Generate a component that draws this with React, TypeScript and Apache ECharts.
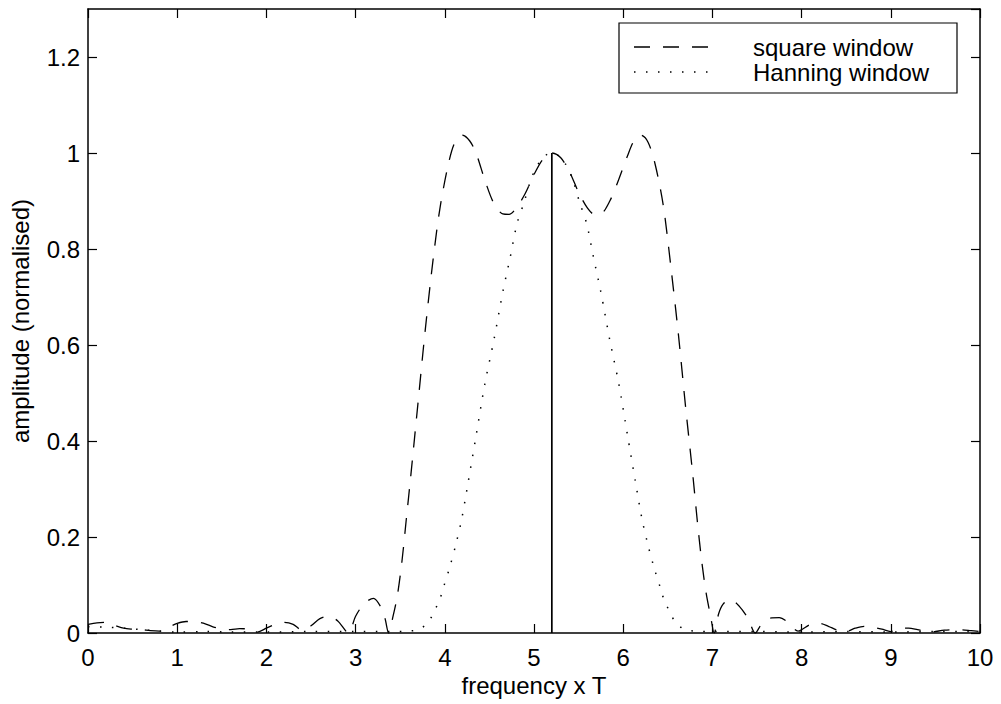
import React, { useEffect, useRef } from "react";
import * as echarts from "echarts";

// ---- data ----
const squareFreq = [
  0.0, 0.1, 0.2, 0.3, 0.4, 0.5, 0.6, 0.7, 0.8, 0.9, 1.0, 1.1, 1.2, 1.3, 1.4, 1.5, 1.6, 1.7, 1.8, 1.9,
  2.0, 2.1, 2.2, 2.3, 2.4, 2.5, 2.6, 2.7, 2.8, 2.92, 3.0, 3.1, 3.2, 3.28, 3.33, 3.37, 3.42, 3.47, 3.52,
  3.57, 3.62, 3.7, 3.78, 3.87, 3.95, 4.05, 4.12, 4.2, 4.28, 4.35, 4.45, 4.55, 4.65, 4.72, 4.8, 4.9, 5.0,
  5.1, 5.2, 5.3, 5.4, 5.5, 5.6, 5.68, 5.75, 5.85, 5.95, 6.05, 6.12, 6.2, 6.28, 6.36, 6.45, 6.53, 6.62,
  6.7, 6.78, 6.83, 6.88, 6.93, 6.98, 7.02, 7.07, 7.12, 7.2, 7.3, 7.4, 7.48, 7.55, 7.65, 7.75, 7.85,
  7.96, 8.1, 8.2, 8.3, 8.4, 8.5, 8.6, 8.7, 8.8, 8.9, 9.0, 9.1, 9.2, 9.3, 9.45, 9.6, 9.75, 9.9, 10.0,
];
const squareAmp = [
  0.018, 0.021, 0.022, 0.016, 0.01, 0.008, 0.007, 0.005, 0.004, 0.012, 0.02, 0.024, 0.024, 0.02, 0.013,
  0.008, 0.007, 0.009, 0.008, 0.002, 0.01, 0.018, 0.022, 0.018, 0.006, 0.015, 0.03, 0.035, 0.025, 0.0,
  0.035, 0.062, 0.072, 0.055, 0.03, 0.0, 0.035, 0.08, 0.15, 0.24, 0.33, 0.48, 0.63, 0.78, 0.89, 0.985,
  1.025, 1.037, 1.025, 1.0, 0.943, 0.895, 0.873, 0.872, 0.885, 0.915, 0.955, 0.987, 1.0, 0.99, 0.96,
  0.918, 0.885, 0.872, 0.873, 0.9, 0.945, 0.995, 1.025, 1.037, 1.022, 0.975, 0.89, 0.77, 0.62, 0.47,
  0.33, 0.235, 0.15, 0.083, 0.035, 0.0, 0.04, 0.06, 0.07, 0.056, 0.03, 0.0, 0.018, 0.031, 0.032, 0.022,
  0.004, 0.018, 0.02, 0.014, 0.006, 0.003, 0.01, 0.014, 0.012, 0.008, 0.003, 0.01, 0.01, 0.007, 0.002,
  0.006, 0.007, 0.005, 0.003,
];

const hanningFreq = [
  0.0, 0.2, 0.4, 0.6, 0.8, 1.0, 1.3, 1.6, 2.0, 2.5, 3.0, 3.4, 3.6, 3.72, 3.82, 3.88, 3.94, 3.98, 4.06,
  4.13, 4.19, 4.26, 4.35, 4.45, 4.55, 4.65, 4.73, 4.81, 4.89, 4.97, 5.05, 5.12, 5.2, 5.28, 5.35, 5.43,
  5.51, 5.59, 5.67, 5.75, 5.85, 5.95, 6.05, 6.14, 6.21, 6.27, 6.34, 6.42, 6.46, 6.52, 6.58, 6.68, 6.8,
  7.0, 7.5, 8.0, 8.5, 9.0, 9.5, 10.0,
];
const hanningAmp = [
  0.013, 0.012, 0.01, 0.007, 0.004, 0.002, 0.003, 0.002, 0.002, 0.003, 0.003, 0.003, 0.004, 0.008, 0.024,
  0.045, 0.068, 0.092, 0.14, 0.189, 0.238, 0.312, 0.41, 0.52, 0.61, 0.71, 0.78, 0.853, 0.898, 0.947,
  0.978, 0.994, 1.0, 0.994, 0.978, 0.947, 0.898, 0.853, 0.78, 0.71, 0.61, 0.52, 0.41, 0.312, 0.238,
  0.189, 0.14, 0.092, 0.068, 0.045, 0.024, 0.008, 0.004, 0.003, 0.003, 0.002, 0.003, 0.002, 0.003,
  0.003,
];

const toneFreq = [5.2, 5.2];
const toneAmp = [0, 1];

const legendLabels = ["square window", "Hanning window"];
const xTitle = "frequency x T";
const yTitle = "amplitude (normalised)";

const FONT = "'Liberation Sans', Arial, Helvetica, sans-serif";
const FS = 24;
const DASH = [16, 13];
const DOT = [1.5, 10.5];

function pairs(xs: number[], ys: number[]) {
  return xs.map((x, i) => [x, ys[i]]);
}

const mkLine = () => ({ show: true, onZero: false, lineStyle: { color: "#000", width: 1.5 } });
const mkTick = () => ({ show: true, inside: true, length: 9, lineStyle: { color: "#000", width: 1.2 } });

export default function App() {
  const ref = useRef<HTMLDivElement>(null);
  useEffect(() => {
    if (!ref.current) return;
    const chart = echarts.init(ref.current, null, { renderer: "svg" });
    const option: any = {
      animation: false,
      backgroundColor: "#fff",
      grid: { left: 88, top: 9, width: 892, height: 624, containLabel: false },
      xAxis: [
        {
          type: "value", min: 0, max: 10, interval: 1, position: "bottom",
          axisLine: mkLine(), axisTick: mkTick(), splitLine: { show: false },
          axisLabel: { color: "#000", fontSize: FS, fontFamily: FONT, margin: 12 },
          name: xTitle, nameLocation: "middle", nameGap: 39,
          nameTextStyle: { color: "#000", fontSize: FS, fontFamily: FONT },
        },
        {
          type: "value", min: 0, max: 10, interval: 1, position: "top",
          axisLine: mkLine(), axisTick: mkTick(), splitLine: { show: false }, axisLabel: { show: false },
        },
      ],
      yAxis: [
        {
          type: "value", min: 0, max: 1.3, interval: 0.2, position: "left",
          axisLine: mkLine(), axisTick: mkTick(), splitLine: { show: false },
          axisLabel: { color: "#000", fontSize: FS, fontFamily: FONT, margin: 8, showMaxLabel: false },
          name: yTitle, nameLocation: "middle", nameGap: 56,
          nameTextStyle: { color: "#000", fontSize: FS, fontFamily: FONT },
        },
        {
          type: "value", min: 0, max: 1.3, interval: 0.2, position: "right",
          axisLine: mkLine(), axisTick: mkTick(), splitLine: { show: false }, axisLabel: { show: false },
        },
      ],
      series: [
        {
          name: legendLabels[0], type: "line", data: pairs(squareFreq, squareAmp),
          showSymbol: false, symbol: "none", smooth: 0.3,
          lineStyle: { color: "#000", width: 1.3, type: DASH },
        },
        {
          name: legendLabels[1], type: "line", data: pairs(hanningFreq, hanningAmp),
          showSymbol: false, symbol: "none", smooth: 0.3,
          lineStyle: { color: "#000", width: 1.5, type: DOT },
        },
        {
          name: "tone", type: "line", data: pairs(toneFreq, toneAmp),
          showSymbol: false, symbol: "none",
          lineStyle: { color: "#000", width: 1.7, type: "solid" },
        },
      ],
      graphic: [
        {
          type: "rect", shape: { x: 619, y: 23, width: 338, height: 70 },
          style: { fill: "#fff", stroke: "#000", lineWidth: 1.2 }, z: 100,
        },
        {
          type: "line", shape: { x1: 634, y1: 47, x2: 708, y2: 47 },
          style: { stroke: "#000", lineWidth: 1.3, lineDash: DASH }, z: 101,
        },
        {
          type: "text", x: 753, y: 47, z: 101,
          style: { text: legendLabels[0], fill: "#000", fontSize: FS, fontFamily: FONT, verticalAlign: "middle" },
        },
        {
          type: "line", shape: { x1: 634, y1: 72, x2: 708, y2: 72 },
          style: { stroke: "#000", lineWidth: 1.5, lineDash: DOT }, z: 101,
        },
        {
          type: "text", x: 753, y: 72, z: 101,
          style: { text: legendLabels[1], fill: "#000", fontSize: FS, fontFamily: FONT, verticalAlign: "middle" },
        },
      ],
    };
    chart.setOption(option);
    return () => chart.dispose();
  }, []);
  return (
    <div
      ref={ref}
      style={{ position: "fixed", left: 0, top: 0, width: 1001, height: 704, background: "#fff" }}
    />
  );
}
